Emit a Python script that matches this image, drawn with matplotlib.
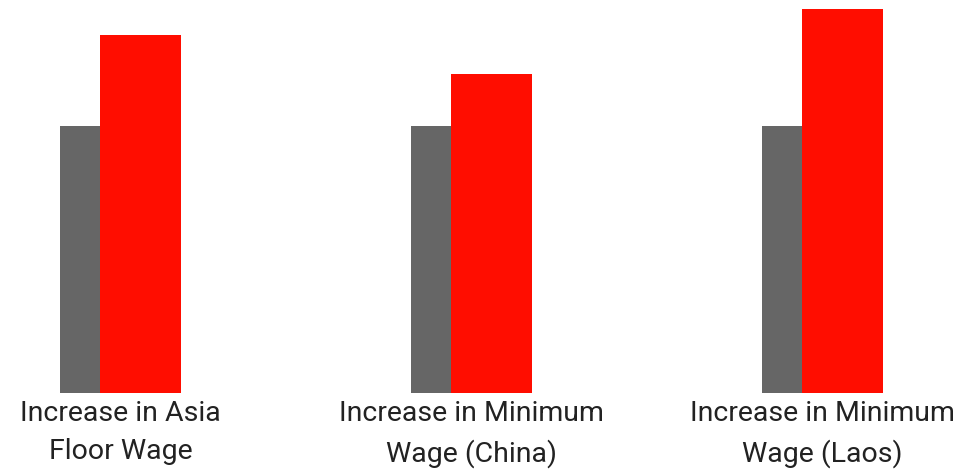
import numpy as np
import matplotlib.pyplot as plt

# wage increase data (index, before = 100)
categories = ['Increase in Asia\nFloor Wage',
              'Increase in Minimum\nWage (China)',
              'Increase in Minimum\nWage (Laos)']
before = [100, 100, 100]
after = [134.1, 119.5, 143.8]

gray = '#666666'
red = '#ff0d00'

plt.rcParams['font.family'] = ['Roboto', 'DejaVu Sans']

fig = plt.figure(figsize=(9.8, 4.72), dpi=100)
ax = fig.add_axes([0, 0.1674, 1, 0.8326])

x = np.arange(len(categories))
ax.bar(x - 0.1724, before, width=0.114, align='edge', color=gray)
ax.bar(x - 0.0584, after, width=0.2308, align='edge', color=red)

ax.set_xlim(-0.3433, 2.4487)
ax.set_ylim(0, 147.2)
ax.set_xticks(x)
ax.set_xticklabels(categories, fontsize=20.5, color='#222222', linespacing=1.55)
ax.tick_params(axis='x', length=0, pad=5)
ax.set_yticks([])
for s in ax.spines.values():
    s.set_visible(False)

fig.savefig('out.png', dpi=100)
